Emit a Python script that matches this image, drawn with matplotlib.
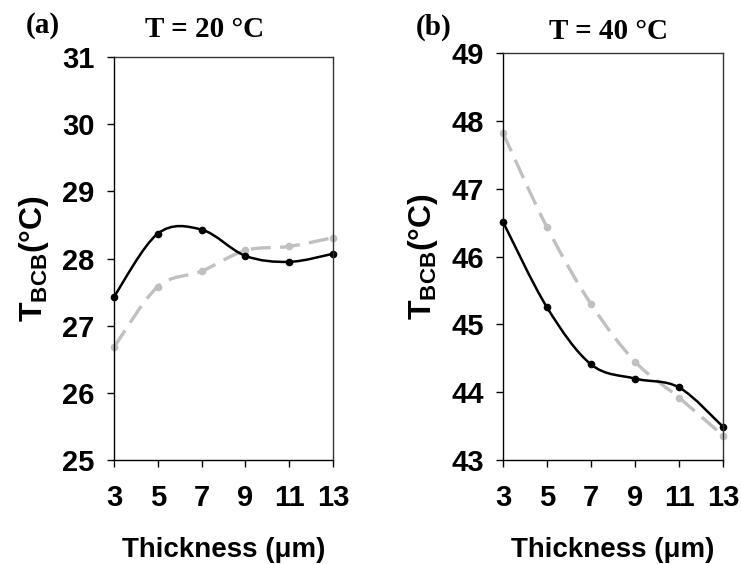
import matplotlib
matplotlib.use('Agg')
import matplotlib.pyplot as plt
from matplotlib.path import Path
from matplotlib.patches import PathPatch

thickness = [3, 5, 7, 9, 11, 13]
t20_black = [27.43, 28.37, 28.43, 28.04, 27.95, 28.07]
t20_gray = [26.68, 27.58, 27.81, 28.12, 28.18, 28.31]
t40_black = [46.51, 45.25, 44.41, 44.20, 44.07, 43.49]
t40_gray = [47.82, 46.43, 45.30, 44.45, 43.92, 43.36]

GRAY = '#c0c0c0'


def smooth_path(xs, ys):
    # excel-like smoothed line: cubic bezier through each point
    pts = list(zip(xs, ys))
    verts = [pts[0]]
    codes = [Path.MOVETO]
    n = len(pts)
    for i in range(n - 1):
        p0 = pts[max(i - 1, 0)]
        p1 = pts[i]
        p2 = pts[i + 1]
        p3 = pts[min(i + 2, n - 1)]
        c1 = (p1[0] + (p2[0] - p0[0]) / 6, p1[1] + (p2[1] - p0[1]) / 6)
        c2 = (p2[0] - (p3[0] - p1[0]) / 6, p2[1] - (p3[1] - p1[1]) / 6)
        verts += [c1, c2, p2]
        codes += [Path.CURVE4] * 3
    return Path(verts, codes)


def draw_panel(ax, black, gray, ylo, yhi):
    ax.add_patch(PathPatch(smooth_path(thickness, gray), fill=False, ec=GRAY,
                           lw=2.4, ls=(0, (6, 2.8)), clip_on=False))
    ax.plot(thickness, gray, ls='none', marker='o', ms=4.5, color=GRAY, clip_on=False)
    ax.add_patch(PathPatch(smooth_path(thickness, black), fill=False, ec='black',
                           lw=1.8, clip_on=False))
    ax.plot(thickness, black, ls='none', marker='o', ms=4.5, color='black', clip_on=False)
    ax.set_xlim(3, 13)
    ax.set_ylim(ylo, yhi)
    ax.set_xticks(thickness)
    ax.set_yticks(range(ylo, yhi + 1))
    ax.tick_params(direction='out', length=5, width=1, colors='black')
    ax.tick_params(axis='x', pad=12)
    ax.tick_params(axis='y', pad=9)
    for lab in ax.get_xticklabels() + ax.get_yticklabels():
        lab.set_fontfamily('Liberation Sans')
        lab.set_fontweight('bold')
        lab.set_fontsize(21)
    for s in ax.spines.values():
        s.set_linewidth(1.0)
        s.set_color('#333333')
    ax.spines['left'].set_color('black')
    ax.spines['bottom'].set_color('black')
    ax.set_xlabel('Thickness (μm)', fontfamily='Liberation Sans', fontweight='bold',
                  fontsize=20, labelpad=18)
    ax.set_ylabel(r'T$_{\mathbf{BCB}}$(°C)', fontfamily='Liberation Sans',
                  fontweight='bold', fontsize=23, labelpad=8)


plt.rcParams['mathtext.fontset'] = 'custom'
plt.rcParams['mathtext.bf'] = 'Liberation Sans:bold'
plt.rcParams['mathtext.rm'] = 'Liberation Sans:bold'
plt.rcParams['mathtext.default'] = 'bf'

fig = plt.figure(figsize=(7.41, 5.64), dpi=100)
ax1 = fig.add_axes([0.1538, 0.1844, 0.2955, 0.7145])
ax2 = fig.add_axes([0.6788, 0.1844, 0.2969, 0.7216])

draw_panel(ax1, t20_black, t20_gray, 25, 31)
draw_panel(ax2, t40_black, t40_gray, 43, 49)

fig.text(0.196, 0.947, 'T = 20 °C', fontfamily='Liberation Serif', fontweight='bold',
         fontsize=21, ha='left', va='center')
fig.text(0.035, 0.955, '(a)', fontfamily='Liberation Serif', fontweight='bold',
         fontsize=21, ha='left', va='center')
fig.text(0.741, 0.944, 'T = 40 °C', fontfamily='Liberation Serif', fontweight='bold',
         fontsize=21, ha='left', va='center')
fig.text(0.561, 0.952, '(b)', fontfamily='Liberation Serif', fontweight='bold',
         fontsize=21, ha='left', va='center')

plt.savefig('out.png', dpi=100)
